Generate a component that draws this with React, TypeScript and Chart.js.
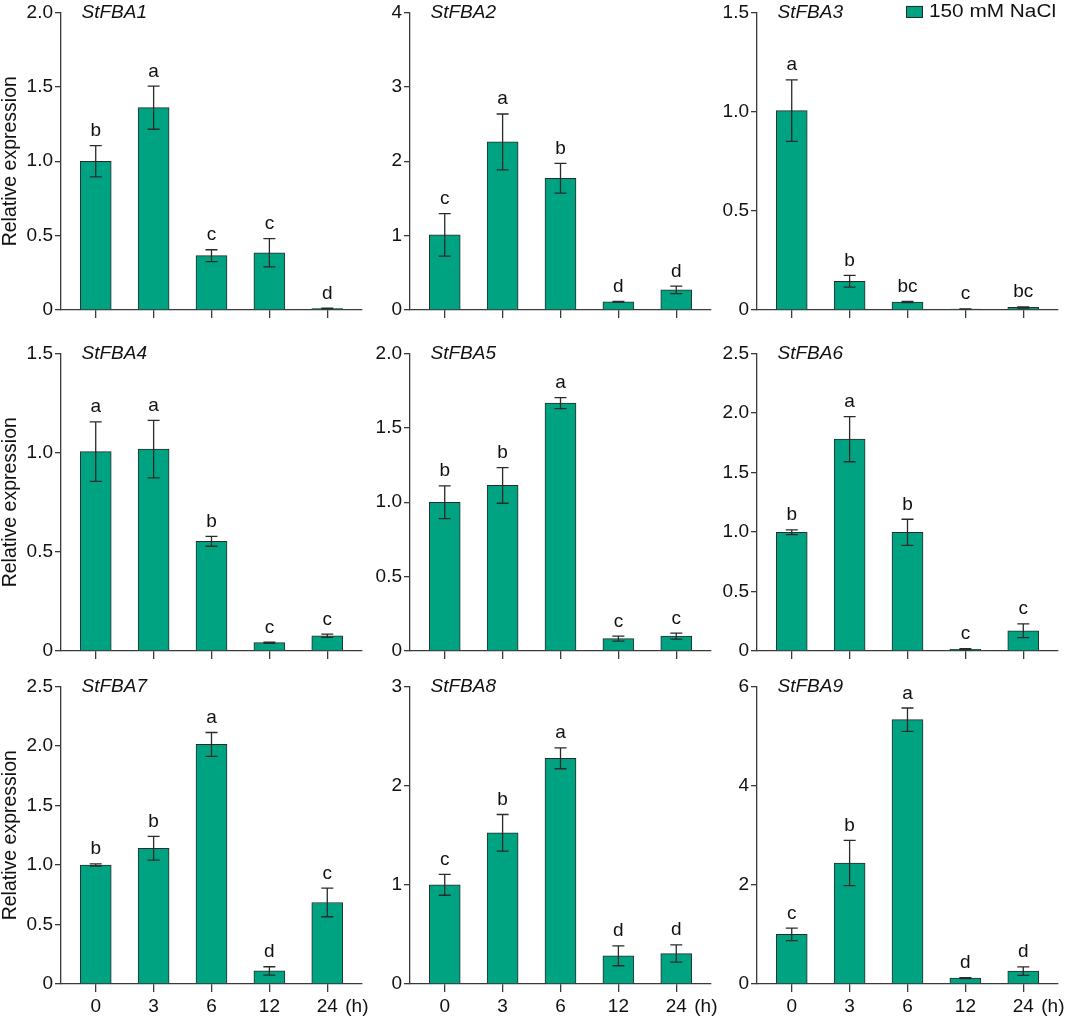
import React, { useEffect, useRef } from 'react';
import { Chart, registerables } from 'chart.js';

Chart.register(...registerables);

// ---------- data ----------
const timeLabels = ['0', '3', '6', '12', '24'];
const timeUnit = '(h)';
const legendLabel = '150 mM NaCl';
const yTitle = 'Relative expression';
const genes = ['StFBA1', 'StFBA2', 'StFBA3', 'StFBA4', 'StFBA5', 'StFBA6', 'StFBA7', 'StFBA8', 'StFBA9'];

const fba1Mean = [1.0, 1.36, 0.365, 0.385, 0.01];
const fba1Err = [0.105, 0.145, 0.04, 0.095, 0.003];
const fba1Letters = ['b', 'a', 'c', 'c', 'd'];

const fba2Mean = [1.01, 2.26, 1.77, 0.11, 0.27];
const fba2Err = [0.285, 0.375, 0.2, 0.005, 0.05];
const fba2Letters = ['c', 'a', 'b', 'd', 'd'];

const fba3Mean = [1.005, 0.145, 0.04, 0.005, 0.013];
const fba3Err = [0.155, 0.03, 0.003, 0.001, 0.003];
const fba3Letters = ['a', 'b', 'bc', 'c', 'bc'];

const fba4Mean = [1.005, 1.018, 0.553, 0.042, 0.077];
const fba4Err = [0.15, 0.145, 0.025, 0.003, 0.008];
const fba4Letters = ['a', 'a', 'b', 'c', 'c'];

const fba5Mean = [1.0, 1.113, 1.666, 0.083, 0.1];
const fba5Err = [0.11, 0.12, 0.037, 0.017, 0.02];
const fba5Letters = ['b', 'b', 'a', 'c', 'c'];

const fba6Mean = [0.997, 1.78, 0.997, 0.014, 0.17];
const fba6Err = [0.02, 0.19, 0.11, 0.005, 0.058];
const fba6Letters = ['b', 'a', 'b', 'c', 'c'];

const fba7Mean = [1.0, 1.14, 2.013, 0.11, 0.685];
const fba7Err = [0.01, 0.1, 0.1, 0.035, 0.12];
const fba7Letters = ['b', 'b', 'a', 'd', 'c'];

const fba8Mean = [1.0, 1.524, 2.275, 0.284, 0.307];
const fba8Err = [0.105, 0.185, 0.105, 0.1, 0.087];
const fba8Letters = ['c', 'b', 'a', 'd', 'd'];

const fba9Mean = [1.0, 2.44, 5.33, 0.12, 0.26];
const fba9Err = [0.125, 0.455, 0.235, 0.01, 0.085];
const fba9Letters = ['c', 'b', 'a', 'd', 'd'];

const yMaxes = [2, 4, 1.5, 1.5, 2, 2.5, 2.5, 3, 6];
const ySteps = [0.5, 1, 0.5, 0.5, 0.5, 0.5, 0.5, 1, 2];

const meansList = [fba1Mean, fba2Mean, fba3Mean, fba4Mean, fba5Mean, fba6Mean, fba7Mean, fba8Mean, fba9Mean];
const errsList = [fba1Err, fba2Err, fba3Err, fba4Err, fba5Err, fba6Err, fba7Err, fba8Err, fba9Err];
const lettersList = [fba1Letters, fba2Letters, fba3Letters, fba4Letters, fba5Letters, fba6Letters, fba7Letters, fba8Letters, fba9Letters];

// ---------- style / layout ----------
const FONT = '"Liberation Sans", Arial, Helvetica, sans-serif';
const BAR = '#00a381';
const EDGE = '#2a2a2a';
const AXIS = '#3a3a3a';
const TEXT = '#111111';
const COL_AXIS = [61, 410, 757];
const ROW_TOP = [11, 352, 685];
const PLOT_W = 301;
const PLOT_H = 299;
const Y_W = 61;
const CANVAS_W = 368;
const CANVAS_H = 346;

function Panel({ idx }: { idx: number }) {
  const ref = useRef<HTMLCanvasElement>(null);
  const row = Math.floor(idx / 3);
  const col = idx % 3;

  useEffect(() => {
    const means = meansList[idx];
    const errs = errsList[idx];
    const letters = lettersList[idx];
    const step = ySteps[idx];

    const annot = {
      id: 'annot',
      afterDatasetsDraw(chart: any) {
        const ctx = chart.ctx;
        const ys = chart.scales.y;
        const xs = chart.scales.x;
        const meta = chart.getDatasetMeta(0);
        const area = chart.chartArea;
        ctx.save();
        ctx.strokeStyle = EDGE;
        ctx.lineWidth = 1.3;
        means.forEach((m: number, i: number) => {
          const x = meta.data[i].x;
          const top = ys.getPixelForValue(m + errs[i]);
          const bot = ys.getPixelForValue(Math.max(0, m - errs[i]));
          ctx.beginPath();
          ctx.moveTo(x, top);
          ctx.lineTo(x, bot);
          ctx.moveTo(x - 6, top);
          ctx.lineTo(x + 6, top);
          ctx.moveTo(x - 6, bot);
          ctx.lineTo(x + 6, bot);
          ctx.stroke();
          ctx.fillStyle = TEXT;
          ctx.font = `19px ${FONT}`;
          ctx.textAlign = 'center';
          ctx.textBaseline = 'alphabetic';
          ctx.fillText(letters[i], x, top - 9.5);
        });
        // gene title
        ctx.fillStyle = TEXT;
        ctx.font = `italic 19px ${FONT}`;
        ctx.textAlign = 'left';
        ctx.textBaseline = 'middle';
        ctx.fillText(genes[idx], area.left + 20.5, area.top);
        // time unit
        if (row === 2) {
          ctx.font = `19px ${FONT}`;
          ctx.textAlign = 'left';
          ctx.textBaseline = 'middle';
          ctx.fillText(timeUnit, xs.getPixelForValue(timeLabels.length - 1) + 18, area.bottom + 8 + 4 + 10.45);
        }
        // legend
        if (idx === 2) {
          ctx.font = `17.5px ${FONT}`;
          const w = ctx.measureText(legendLabel).width;
          const sx = 127 / w;
          const textLeft = area.right - 2 - 127;
          ctx.save();
          ctx.translate(textLeft, area.top);
          ctx.scale(sx, 1);
          ctx.textAlign = 'left';
          ctx.textBaseline = 'middle';
          ctx.fillText(legendLabel, 0, 0);
          ctx.restore();
          ctx.fillStyle = BAR;
          ctx.strokeStyle = EDGE;
          ctx.lineWidth = 1;
          const bx = textLeft - 6 - 17;
          ctx.fillRect(bx, area.top - 6.5, 17, 12);
          ctx.strokeRect(bx + 0.5, area.top - 6, 16, 11);
        }
        ctx.restore();
      },
    };

    const chart = new Chart(ref.current as HTMLCanvasElement, {
      type: 'bar',
      data: {
        datasets: [
          {
            data: means.map((m, i) => ({ x: i, y: m })),
            backgroundColor: BAR,
            borderColor: EDGE,
            borderWidth: 1,
            barThickness: 31,
            borderSkipped: 'start',
          } as any,
        ],
      },
      options: {
        animation: false,
        responsive: false,
        maintainAspectRatio: false,
        layout: { padding: { top: 11, left: 0, right: CANVAS_W - Y_W - PLOT_W, bottom: 0 } },
        plugins: { legend: { display: false }, tooltip: { enabled: false } },
        scales: {
          x: {
            type: 'linear',
            offset: false,
            min: -0.6,
            max: 4.6,
            afterBuildTicks: (s: any) => {
              s.ticks = timeLabels.map((_, i) => ({ value: i }));
            },
            afterFit: (s: any) => {
              s.height = CANVAS_H - 11 - PLOT_H;
            },
            ticks: {
              autoSkip: false,
              maxRotation: 0,
              minRotation: 0,
              padding: 4,
              color: TEXT,
              font: { family: FONT, size: 19, lineHeight: 1.1 },
              callback: (v: any) => (row === 2 ? timeLabels[v as number] : ''),
            },
            grid: { offset: false, drawOnChartArea: false, drawTicks: true, tickLength: 8, color: AXIS, lineWidth: 1.3 },
            border: { display: true, color: AXIS, width: 1.3 },
          },
          y: {
            type: 'linear',
            min: 0,
            max: yMaxes[idx],
            afterFit: (s: any) => {
              s.width = Y_W;
            },
            ticks: {
              stepSize: step,
              padding: 2,
              color: TEXT,
              font: { family: FONT, size: 19, lineHeight: 1.1 },
              callback: (v: any) => {
                const n = Number(v);
                if (n === 0) return '0';
                return step < 1 ? n.toFixed(1) : String(n);
              },
            },
            grid: { drawOnChartArea: false, drawTicks: true, tickLength: 6, color: AXIS, lineWidth: 1.3 },
            border: { display: true, color: AXIS, width: 1.3 },
            title: {
              display: col === 0,
              text: yTitle,
              color: TEXT,
              font: { family: FONT, size: 19.5, lineHeight: 1.2 },
              padding: { top: -1.5, bottom: 0 },
            },
          },
        },
      } as any,
      plugins: [annot],
    });
    return () => chart.destroy();
  }, [idx]);

  return (
    <canvas
      ref={ref}
      width={CANVAS_W}
      height={CANVAS_H}
      style={{
        position: 'absolute',
        left: COL_AXIS[col] - Y_W,
        top: ROW_TOP[row] - 11,
        width: CANVAS_W,
        height: CANVAS_H,
      }}
    />
  );
}

export default function App() {
  return (
    <div
      style={{
        position: 'absolute',
        left: 0,
        top: 0,
        width: 1065,
        height: 1020,
        background: '#ffffff',
        overflow: 'hidden',
      }}
    >
      {genes.map((_, i) => (
        <Panel key={i} idx={i} />
      ))}
    </div>
  );
}
